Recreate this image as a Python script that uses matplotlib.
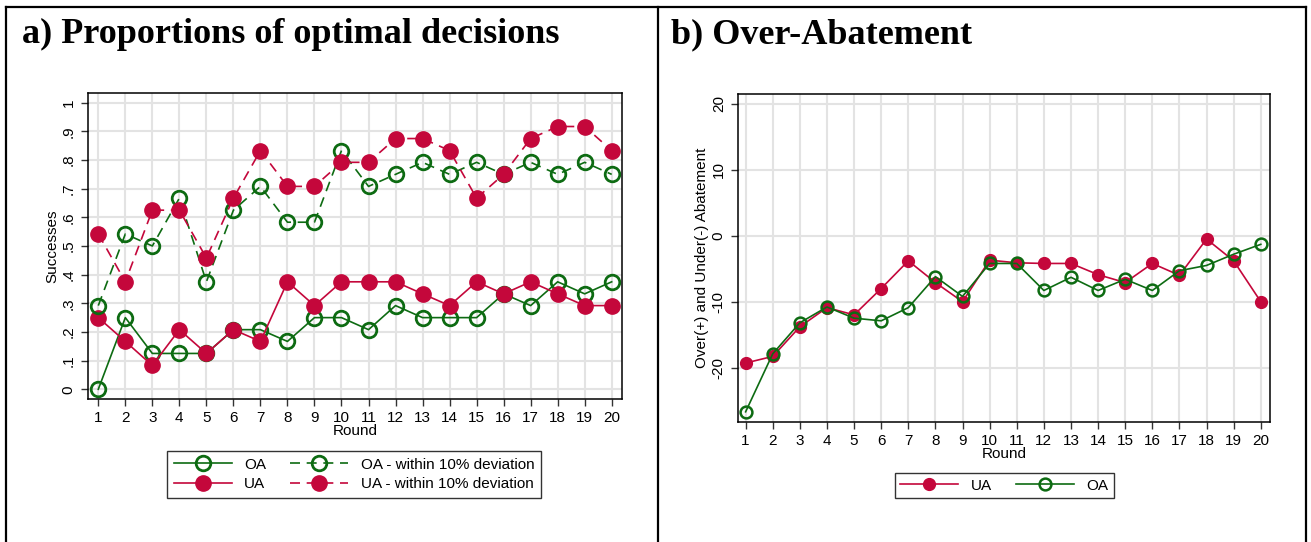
"""Proportions of optimal decisions / Over-Abatement, two panels side by side."""

import matplotlib
matplotlib.use('Agg')
import matplotlib.pyplot as plt
from matplotlib.lines import Line2D

# Data
rounds = list(range(1, 21))

# panel a) share of successes
oa_share = [0.0, 0.25, 0.125, 0.125, 0.125, 0.208, 0.208, 0.167, 0.25, 0.25,
            0.208, 0.292, 0.25, 0.25, 0.25, 0.333, 0.292, 0.375, 0.333, 0.375]
ua_share = [0.25, 0.167, 0.083, 0.208, 0.125, 0.208, 0.167, 0.375, 0.292, 0.375,
            0.375, 0.375, 0.333, 0.292, 0.375, 0.333, 0.375, 0.333, 0.292, 0.292]
oa_share10 = [0.292, 0.542, 0.5, 0.667, 0.375, 0.625, 0.708, 0.583, 0.583, 0.833,
              0.708, 0.75, 0.792, 0.75, 0.792, 0.75, 0.792, 0.75, 0.792, 0.75]
ua_share10 = [0.542, 0.375, 0.625, 0.625, 0.458, 0.667, 0.833, 0.708, 0.708, 0.792,
              0.792, 0.875, 0.875, 0.833, 0.667, 0.75, 0.875, 0.917, 0.917, 0.833]

# panel b) over(+)/under(-) abatement
ua_abate = [-19.3, -18.3, -13.8, -10.9, -12.0, -8.0, -3.8, -7.1, -10.0, -3.7,
            -4.1, -4.2, -4.2, -5.9, -7.1, -4.2, -6.0, -0.5, -3.8, -10.0]
oa_abate = [-26.7, -17.9, -13.2, -10.8, -12.5, -12.9, -10.9, -6.2, -9.2, -4.2,
            -4.2, -8.3, -6.3, -8.3, -6.6, -8.3, -5.3, -4.5, -2.8, -1.3]

a_yticks = [0, 0.1, 0.2, 0.3, 0.4, 0.5, 0.6, 0.7, 0.8, 0.9, 1]
a_yticklabels = ['0', '.1', '.2', '.3', '.4', '.5', '.6', '.7', '.8', '.9', '1']
b_yticks = [-20, -10, 0, 10, 20]

GREEN = '#0d6b12'
RED = '#c4073b'
GRID = '#e3e3e3'

plt.rcParams['font.family'] = ['Liberation Sans', 'DejaVu Sans']
plt.rcParams['axes.unicode_minus'] = False

fig = plt.figure(figsize=(13.11, 5.42), dpi=100)
W, H = 1311.0, 542.0


def box(x0, y0, x1, y1):
    return [x0 / W, 1 - y1 / H, (x1 - x0) / W, (y1 - y0) / H]


def style_axes(ax):
    ax.set_xticks(rounds)
    ax.grid(True, color=GRID, linewidth=1.5)
    ax.set_axisbelow(True)
    for s in ax.spines.values():
        s.set_linewidth(1.1)
        s.set_color('black')
    ax.tick_params(axis='both', direction='out', length=5, width=1,
                   color='#333333', labelsize=11, pad=4)
    plt.setp(ax.get_yticklabels(), rotation=90, va='center')
    ax.set_xlabel('Round', fontsize=11, labelpad=-1)


# ---- panel a ----
ax1 = fig.add_axes(box(88.3, 92.7, 621.7, 399))
ax1.plot(rounds, oa_share, color=GREEN, lw=1.2, marker='o', ms=10.5,
         mfc='none', mec=GREEN, mew=2, label='OA')
ax1.plot(rounds, ua_share, color=RED, lw=1.2, marker='o', ms=11,
         mfc=RED, mec=RED, label='UA')
ax1.plot(rounds, oa_share10, color=GREEN, lw=1.2, ls=(0, (6, 4)), marker='o', ms=10.5,
         mfc='none', mec=GREEN, mew=2, label='OA - within 10% deviation')
ax1.plot(rounds, ua_share10, color=RED, lw=1.2, ls=(0, (6, 4)), marker='o', ms=11,
         mfc=RED, mec=RED, label='UA - within 10% deviation')
ax1.set_xlim(0.63, 20.37)
ax1.set_ylim(-0.034, 1.035)
ax1.set_yticks(a_yticks)
ax1.set_yticklabels(a_yticklabels)
ax1.set_ylabel('Successes', fontsize=11, labelpad=2)
style_axes(ax1)

h, l = ax1.get_legend_handles_labels()
leg1 = fig.legend(h, l, ncol=2, loc='center', bbox_to_anchor=(354 / W, 1 - 474.5 / H),
                  fontsize=11, handlelength=3.8, columnspacing=1.6, labelspacing=0.35,
                  frameon=True, fancybox=False, edgecolor='black', borderpad=0.45,
                  handletextpad=0.8)
leg1.get_frame().set_linewidth(1.0)

# ---- panel b ----
ax2 = fig.add_axes(box(738.3, 94, 1270, 421.7))
ax2.plot(rounds, ua_abate, color=RED, lw=1.2, marker='o', ms=8.5,
         mfc=RED, mec=RED, label='UA')
ax2.plot(rounds, oa_abate, color=GREEN, lw=1.2, marker='o', ms=8.5,
         mfc='none', mec=GREEN, mew=1.8, label='OA')
ax2.set_xlim(0.73, 20.34)
ax2.set_ylim(-28.2, 21.5)
ax2.set_yticks(b_yticks)
ax2.set_ylabel('Over(+) and Under(-) Abatement', fontsize=11, labelpad=2)
style_axes(ax2)

h, l = ax2.get_legend_handles_labels()
leg2 = fig.legend(h, l, ncol=2, loc='center', bbox_to_anchor=(1004.5 / W, 1 - 485.5 / H),
                  fontsize=11, handlelength=3.8, columnspacing=1.6,
                  frameon=True, fancybox=False, edgecolor='black', borderpad=0.35,
                  handletextpad=0.8)
leg2.get_frame().set_linewidth(1.0)

# ---- titles and table-like frame ----
fig.text(22 / W, 1 - 43 / H, 'a) Proportions of optimal decisions', fontsize=26,
         fontweight='bold', family='Liberation Serif', va='baseline')
fig.text(671 / W, 1 - 43 / H, 'b) Over-Abatement', fontsize=26,
         fontweight='bold', family='Liberation Serif', va='baseline')

for (x0, y0, x1, y1) in [(6, 7, 1306, 7), (6, 7, 6, 542), (658, 7, 658, 542),
                         (1306, 7, 1306, 542)]:
    fig.add_artist(Line2D([x0 / W, x1 / W], [1 - y0 / H, 1 - y1 / H],
                          color='black', lw=1.6))

fig.savefig('out.png', dpi=100)
